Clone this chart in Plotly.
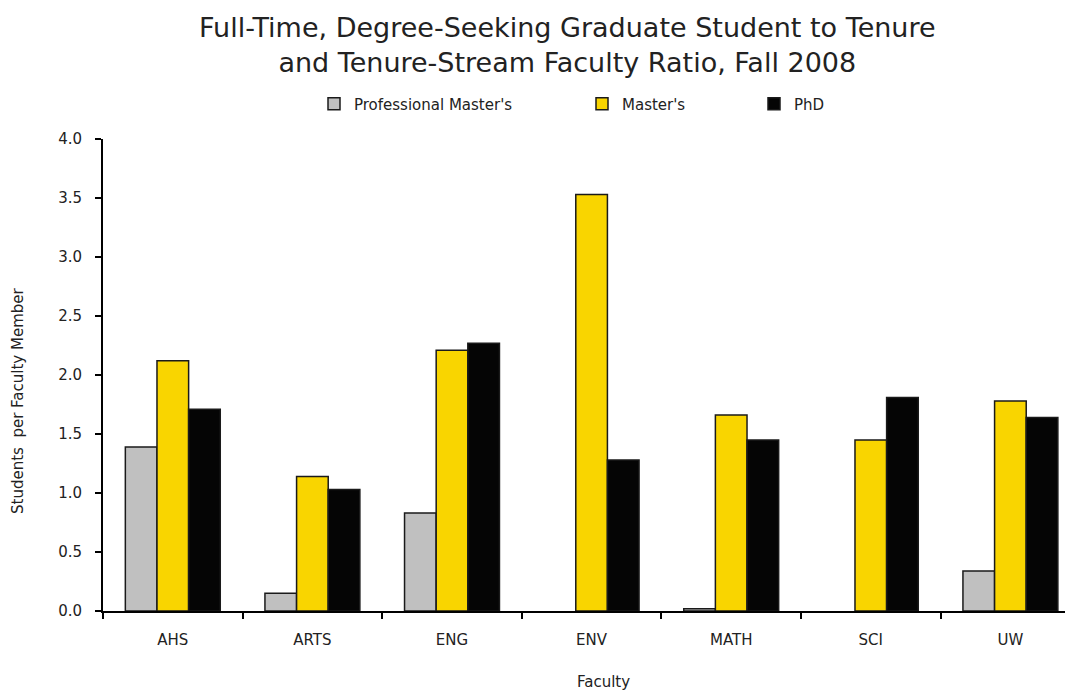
import plotly.graph_objects as go

categories = ["AHS", "ARTS", "ENG", "ENV", "MATH", "SCI", "UW"]
professional_masters = [1.39, 0.15, 0.83, 0.0, 0.02, 0.0, 0.34]
masters = [2.12, 1.14, 2.21, 3.53, 1.66, 1.45, 1.78]
phd = [1.71, 1.03, 2.27, 1.28, 1.45, 1.81, 1.64]

series_names = ["Professional Master's", "Master's", "PhD"]
colors = ["#C0C0C0", "#F9D500", "#050505"]
legends = ["legend", "legend2", "legend3"]
title_text = ("Full-Time, Degree-Seeking Graduate Student to Tenure<br>"
              "and Tenure-Stream Faculty Ratio, Fall 2008")

FONT = "DejaVu Sans"
W, H = 1073, 690
OFF = 8  # default page body margin
L, R, T, B = 95, 8, 131, 87
PW, PH = W - L - R, H - T - B

fig = go.Figure()
for name, vals, col, lg in zip(series_names, [professional_masters, masters, phd], colors, legends):
    fig.add_trace(go.Bar(
        x=categories, y=vals, name=name, legend=lg,
        marker=dict(color=col, line=dict(color="#1a1a1a",
                                         width=[0 if v == 0 else 1.5 for v in vals])),
    ))

def pxx(px):
    return (px - OFF - L) / PW

def pxy(py):
    return (H - B - (py - OFF)) / PH

leg_common = dict(orientation="h", yanchor="middle", xanchor="left",
                  font=dict(family=FONT, size=15, color="#222"),
                  bgcolor="rgba(0,0,0,0)", itemwidth=30, tracegroupgap=0)

annos = [
    dict(text="Students  per Faculty Member", textangle=-90, x=pxx(18), y=pxy(401),
         xref="paper", yref="paper", showarrow=False, xanchor="center", yanchor="middle",
         font=dict(family=FONT, size=15, color="#222")),
    dict(text="Faculty", x=pxx(603), y=pxy(682), xref="paper", yref="paper", showarrow=False,
         xanchor="center", yanchor="middle", font=dict(family=FONT, size=15, color="#222")),
    dict(text=title_text, x=pxx(567), y=pxy(45), xref="paper", yref="paper", showarrow=False,
         xanchor="center", yanchor="middle", align="center",
         font=dict(family=FONT, size=27, color="#222")),
]

fig.update_layout(
    width=W, height=H,
    margin=dict(l=L, r=R, t=T, b=B),
    paper_bgcolor="white", plot_bgcolor="white",
    barmode="group", bargap=0.32, bargroupgap=0,
    legend=dict(x=pxx(314), y=pxy(104), **leg_common),
    legend2=dict(x=pxx(582), y=pxy(104), **leg_common),
    legend3=dict(x=pxx(754), y=pxy(104), **leg_common),
    xaxis=dict(range=[-0.5, -0.5 + PW / 139.6], showline=True, linecolor="black", linewidth=2,
               ticks="outside", tickson="boundaries", ticklen=6, tickwidth=2, tickcolor="black",
               ticklabelstandoff=14,
               tickfont=dict(family=FONT, size=15, color="#222"), showgrid=False),
    yaxis=dict(range=[0, 4], dtick=0.5, tickformat=".1f", showline=True, linecolor="black", linewidth=2,
               ticks="outside", ticklen=6, tickwidth=2, tickcolor="black", showgrid=False, zeroline=False,
               ticklabelstandoff=10,
               tickfont=dict(family=FONT, size=15, color="#222")),
    showlegend=True,
    annotations=annos,
)

fig.write_html("out.html")
